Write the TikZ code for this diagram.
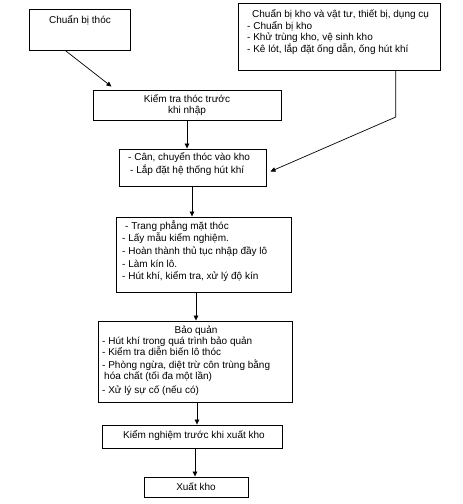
\documentclass[tikz,border=0pt]{standalone}
\usepackage{fontspec}
\setmainfont{Liberation Sans}
\usetikzlibrary{calc,arrows.meta}
\newcommand\leftlines[1]{\vtop{\halign{##\hfil\cr#1\crcr}}}
\newcommand\ctrlines[1]{\vtop{\halign{\hfil##\hfil\cr#1\crcr}}}
\begin{document}
\begin{tikzpicture}[x=1pt,y=-1pt,
  box/.style={draw,line width=0.9pt,inner sep=0pt},
  txt/.style={inner sep=0pt,font=\fontsize{10}{11.8}\selectfont,anchor=base west},
  ctxt/.style={inner sep=0pt,font=\fontsize{10}{11.5}\selectfont,anchor=base},
  arr/.style={line width=0.7pt,-{Triangle[length=5pt,width=4.5pt]}}]
\useasboundingbox (0,0) rectangle (463,504);
% boxes
\node[box,minimum width=101pt,minimum height=41pt] (b1) at (79.5,29.5) {};
\node[box,minimum width=202pt,minimum height=67pt] (b2) at (339,36.5) {};
\node[box,minimum width=188pt,minimum height=30pt] (b3) at (187,105) {};
\node[box,minimum width=147pt,minimum height=37pt] (b4) at (192.5,167.5) {};
\node[box,minimum width=175pt,minimum height=75pt] (b5) at (203.5,254.5) {};
\node[box,minimum width=194pt,minimum height=81pt] (b6) at (195,361.5) {};
\node[box,minimum width=180pt,minimum height=23pt] (b7) at (192,436.5) {};
\node[box,minimum width=104pt,minimum height=20pt] (b8) at (196,487) {};
% texts
\node[ctxt] (t1) at (80,23) {Chuẩn bị thóc};
\node[txt] (t2a) at (252,17.5) {Chuẩn bị kho và vật tư, thiết bị, dụng cụ};
\node[txt] (t2b) at (247,29) {\leftlines{- Chuẩn bị kho\cr- Khử trùng kho, vệ sinh kho\cr- Kê lót, lắp đặt ống dẫn, ống hút khí}};
\node[ctxt] (t3) at (187,102) {\ctrlines{Kiểm tra thóc trước\cr khi nhập}};
\node[txt,font=\fontsize{10}{13}\selectfont] (t4) at (128,160) {\leftlines{- Cân, chuyển thóc vào kho\cr\kern2pt- Lắp đặt hệ thống hút khí}};
\node[txt,font=\fontsize{10}{12.7}\selectfont] (t5) at (122,229) {\leftlines{\kern3pt- Trang phẳng mặt thóc\cr- Lấy mẫu kiểm nghiệm.\cr- Hoàn thành thủ tục nhập đầy lô\cr- Làm kín lô.\cr- Hút khí, kiểm tra, xử lý độ kín}};
\node[ctxt] (t6a) at (196,333) {Bảo quản};
\node[txt,font=\fontsize{10}{11}\selectfont] (t6b) at (102,344) {\leftlines{- Hút khí trong quá trình bảo quản\cr- Kiểm tra diễn biến lô thóc\cr\noalign{\vskip2.5pt}- Phòng ngừa, diệt trừ côn trùng bằng\cr\kern2pt hóa chất (tối đa một lần)\cr\noalign{\vskip2.5pt}- Xử lý sự cố (nếu có)}};
\node[ctxt] (t7) at (194,438.5) {Kiểm nghiệm trước khi xuất kho};
\node[ctxt] (t8) at (196,490.5) {Xuất kho};
% connectors
\coordinate (c1) at ($(b1.south west)!0.36!(b1.south east)$);
\coordinate (c3) at ($(b3.north west)!0.10!(b3.north east)+(0,-3)$);
\draw[arr] (c1) -- (c3);
\draw[arr] (b3.south) -- (b4.north -| b3.south);
\coordinate (k1) at ($(b2.south west)!0.78!(b2.south east)$);
\coordinate (k2) at (k1 |- 0,117);
\coordinate (k3) at ($(b4.east)+(4,4)$);
\draw[arr] (k1) -- (k2) -- (k3);
\coordinate (d4) at (b4.south -| 192,0);
\draw[arr] (d4) -- (b5.north -| d4);
\coordinate (d5) at (b5.south -| 196,0);
\draw[arr] (d5) -- (b6.north -| d5);
\coordinate (d6) at (b6.south -| 197,0);
\draw[arr] (d6) -- (b7.north -| d6);
\coordinate (d7) at (b7.south -| 195,0);
\draw[arr] (d7) -- (b8.north -| d7);
\end{tikzpicture}
\end{document}
